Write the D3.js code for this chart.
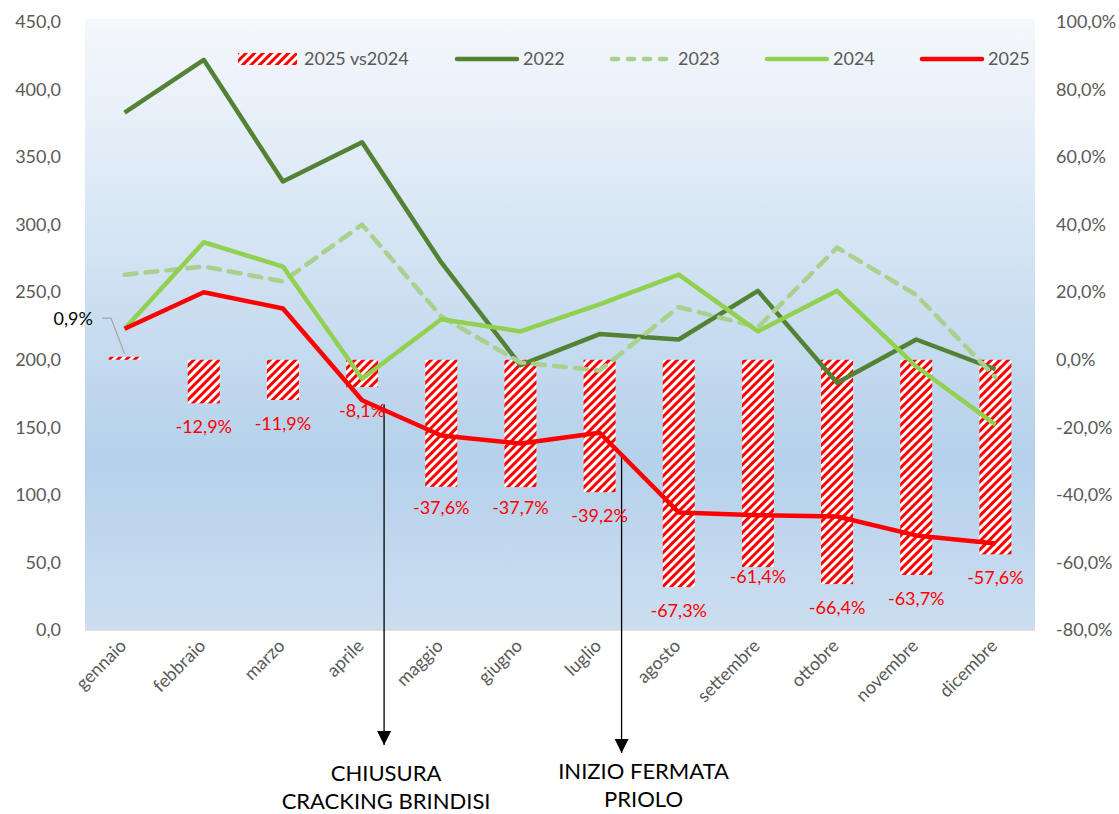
<!DOCTYPE html>
<html>
<head>
<meta charset="utf-8">
<script src="https://cdn.jsdelivr.net/npm/d3@7"></script>
<style>
  body { margin: 0; background: #fff; }
  svg text { font-family: Lato, "Open Sans", sans-serif; }
</style>
</head>
<body>
<div id="chart"></div>
<script>
// data
const months = ["gennaio", "febbraio", "marzo", "aprile", "maggio", "giugno",
    "luglio", "agosto", "settembre", "ottobre", "novembre", "dicembre"];
const v2022 = [383, 422, 332, 361, 272, 196, 219, 215, 251, 183, 215, 193];
const v2023 = [263, 269, 258, 300, 232, 198, 192, 239, 224, 283, 248, 187];
const v2024 = [223, 287, 269, 186, 230, 221, 241, 263, 221, 251, 195, 152];
const v2025 = [223, 250, 238, 170, 144, 138, 146, 87, 85, 84, 70, 64];
const delta = [0.9, -12.9, -11.9, -8.1, -37.6, -37.7, -39.2, -67.3, -61.4, -66.4, -63.7, -57.6];
const leftTicks = [0, 50, 100, 150, 200, 250, 300, 350, 400, 450];
const rightTicks = [-80, -60, -40, -20, 0, 20, 40, 60, 80, 100];
const notes = [
    { month: "aprile", lines: ["CHIUSURA", "CRACKING BRINDISI"] },
    { month: "luglio", lines: ["INIZIO FERMATA", "PRIOLO"] }
];

const W = 1119, H = 814;
const plot = { left: 85, right: 1035, top: 22, bottom: 630 };
const grey = "#595959";
const fs = 18;
const fmt = d => d.toFixed(1).replace(".", ",");

const svg = d3.select("#chart").append("svg")
    .attr("width", W).attr("height", H);

const defs = svg.append("defs");
const grad = defs.append("linearGradient").attr("id", "bg")
    .attr("x1", 0).attr("x2", 0).attr("y1", 0).attr("y2", 1);
grad.append("stop").attr("offset", "0%").attr("stop-color", "#F5F8FC");
grad.append("stop").attr("offset", "72%").attr("stop-color", "#B5D1EB");
grad.append("stop").attr("offset", "100%").attr("stop-color", "#CCDEF0");

const hatch = defs.append("pattern").attr("id", "hatch")
    .attr("patternUnits", "userSpaceOnUse")
    .attr("width", 6).attr("height", 6)
    .attr("patternTransform", "rotate(45)");
hatch.append("rect").attr("width", 6).attr("height", 6).attr("fill", "#fff");
hatch.append("rect").attr("width", 3).attr("height", 6).attr("fill", "#FF0000");

const arrow = defs.append("marker").attr("id", "arrow")
    .attr("viewBox", "0 0 10 10").attr("refX", 10).attr("refY", 5)
    .attr("markerWidth", 14).attr("markerHeight", 14)
    .attr("markerUnits", "userSpaceOnUse")
    .attr("orient", "auto");
arrow.append("path").attr("d", "M0,0 L10,5 L0,10 z").attr("fill", "#000");

svg.append("rect")
    .attr("x", plot.left).attr("y", plot.top - 3)
    .attr("width", plot.right - plot.left).attr("height", plot.bottom - plot.top + 3)
    .attr("fill", "url(#bg)");

const x = d3.scaleBand().domain(months).range([plot.left, plot.right]);
const y = d3.scaleLinear().domain([0, 450]).range([plot.bottom, plot.top]);
const y2 = d3.scaleLinear().domain([-80, 100]).range([plot.bottom, plot.top]);
const cx = m => x(m) + x.bandwidth() / 2;

// axes
const axL = svg.append("g").attr("transform", `translate(${plot.left - 21},0)`)
    .call(d3.axisLeft(y).tickValues(leftTicks).tickFormat(fmt).tickSize(0));
axL.select(".domain").remove();
axL.selectAll("text").attr("fill", grey).attr("font-size", fs);

const axR = svg.append("g").attr("transform", `translate(${plot.right + 18},0)`)
    .call(d3.axisRight(y2).tickValues(rightTicks).tickFormat(d => fmt(d) + "%").tickSize(0));
axR.select(".domain").remove();
axR.selectAll("text").attr("fill", grey).attr("font-size", fs);

svg.append("line")
    .attr("x1", plot.left).attr("x2", plot.right)
    .attr("y1", plot.bottom).attr("y2", plot.bottom)
    .attr("stroke", "#D9D9D9").attr("stroke-width", 1.5);

svg.append("g").selectAll("text").data(months).join("text")
    .attr("transform", m => `translate(${cx(m) + 3},${plot.bottom + 17}) rotate(-45)`)
    .attr("text-anchor", "end")
    .attr("fill", grey).attr("font-size", fs)
    .text(m => m);

// bars
const barW = 32;
svg.append("g").selectAll("rect").data(delta).join("rect")
    .attr("x", (d, i) => cx(months[i]) - barW / 2)
    .attr("y", d => y2(Math.max(0, d)))
    .attr("width", barW)
    .attr("height", d => Math.abs(y2(d) - y2(0)))
    .attr("fill", "url(#hatch)");

// annotation arrows
notes.forEach(n => {
    const i = months.indexOf(n.month);
    const xx = cx(n.month) + 22;
    svg.append("line")
        .attr("x1", xx).attr("x2", xx)
        .attr("y1", y2(delta[i]) + (i === 3 ? 17 : -36))
        .attr("y2", n.month === "aprile" ? 745 : 753)
        .attr("stroke", "#000").attr("stroke-width", 1.3)
        .attr("marker-end", "url(#arrow)");
    n.lines.forEach((t, k) => {
        svg.append("text")
            .attr("x", n.month === "aprile" ? xx + 2 : xx + 22)
            .attr("y", (n.month === "aprile" ? 781 : 779) + k * 28)
            .attr("text-anchor", "middle")
            .attr("fill", "#000").attr("font-size", 22)
            .text(t);
    });
});

// lines
const line = d3.line().x((d, i) => cx(months[i])).y(d => y(d));
const series = [
    { name: "2022", vals: v2022, color: "#548235", dash: null },
    { name: "2023", vals: v2023, color: "#A9D18E", dash: "12 9" },
    { name: "2024", vals: v2024, color: "#92D050", dash: null },
    { name: "2025", vals: v2025, color: "#FF0000", dash: null }
];
series.forEach(s => {
    svg.append("path").datum(s.vals)
        .attr("d", line)
        .attr("fill", "none")
        .attr("stroke", s.color)
        .attr("stroke-width", 4.5)
        .attr("stroke-linejoin", "round")
        .attr("stroke-linecap", s.dash ? "round" : "butt")
        .attr("stroke-dasharray", s.dash);
});

// bar labels
const labelShift = { settembre: -14, maggio: -3, giugno: -3 };
svg.append("g").selectAll("text").data(delta.slice(1)).join("text")
    .attr("x", (d, i) => cx(months[i + 1]))
    .attr("y", (d, i) => y2(d) + 30 + (labelShift[months[i + 1]] || 0))
    .attr("text-anchor", "middle")
    .attr("fill", "#FF0000").attr("font-size", fs)
    .text(d => fmt(d) + "%");

// 0,9% label with leader line
svg.append("path")
    .attr("d", `M${plot.left + 17},${y(250) + 26} h9 L${cx(months[0])},${y2(delta[0]) - 3}`)
    .attr("fill", "none").attr("stroke", "#A6A6A6").attr("stroke-width", 1.2);
svg.append("text")
    .attr("x", plot.left + 8).attr("y", y(250) + 33)
    .attr("text-anchor", "end")
    .attr("fill", "#000").attr("font-size", fs)
    .text(fmt(delta[0]) + "%");

// legend
const lg = svg.append("g").attr("font-size", fs).attr("fill", grey);
const legendY = 59;
lg.append("rect").attr("x", 238).attr("y", legendY - 6).attr("width", 59).attr("height", 12)
    .attr("fill", "url(#hatch)");
lg.append("text").attr("x", 304).attr("y", legendY + 6).text("2025 vs2024");
const legX = [457, 612, 767, 922];
series.forEach((s, i) => {
    lg.append("line")
        .attr("x1", legX[i]).attr("x2", legX[i] + 60)
        .attr("y1", legendY).attr("y2", legendY)
        .attr("stroke", s.color).attr("stroke-width", 4.5)
        .attr("stroke-linecap", "round")
        .attr("stroke-dasharray", s.dash ? "6 10" : null);
    lg.append("text").attr("x", legX[i] + 66).attr("y", legendY + 6).text(s.name);
});
</script>
</body>
</html>
